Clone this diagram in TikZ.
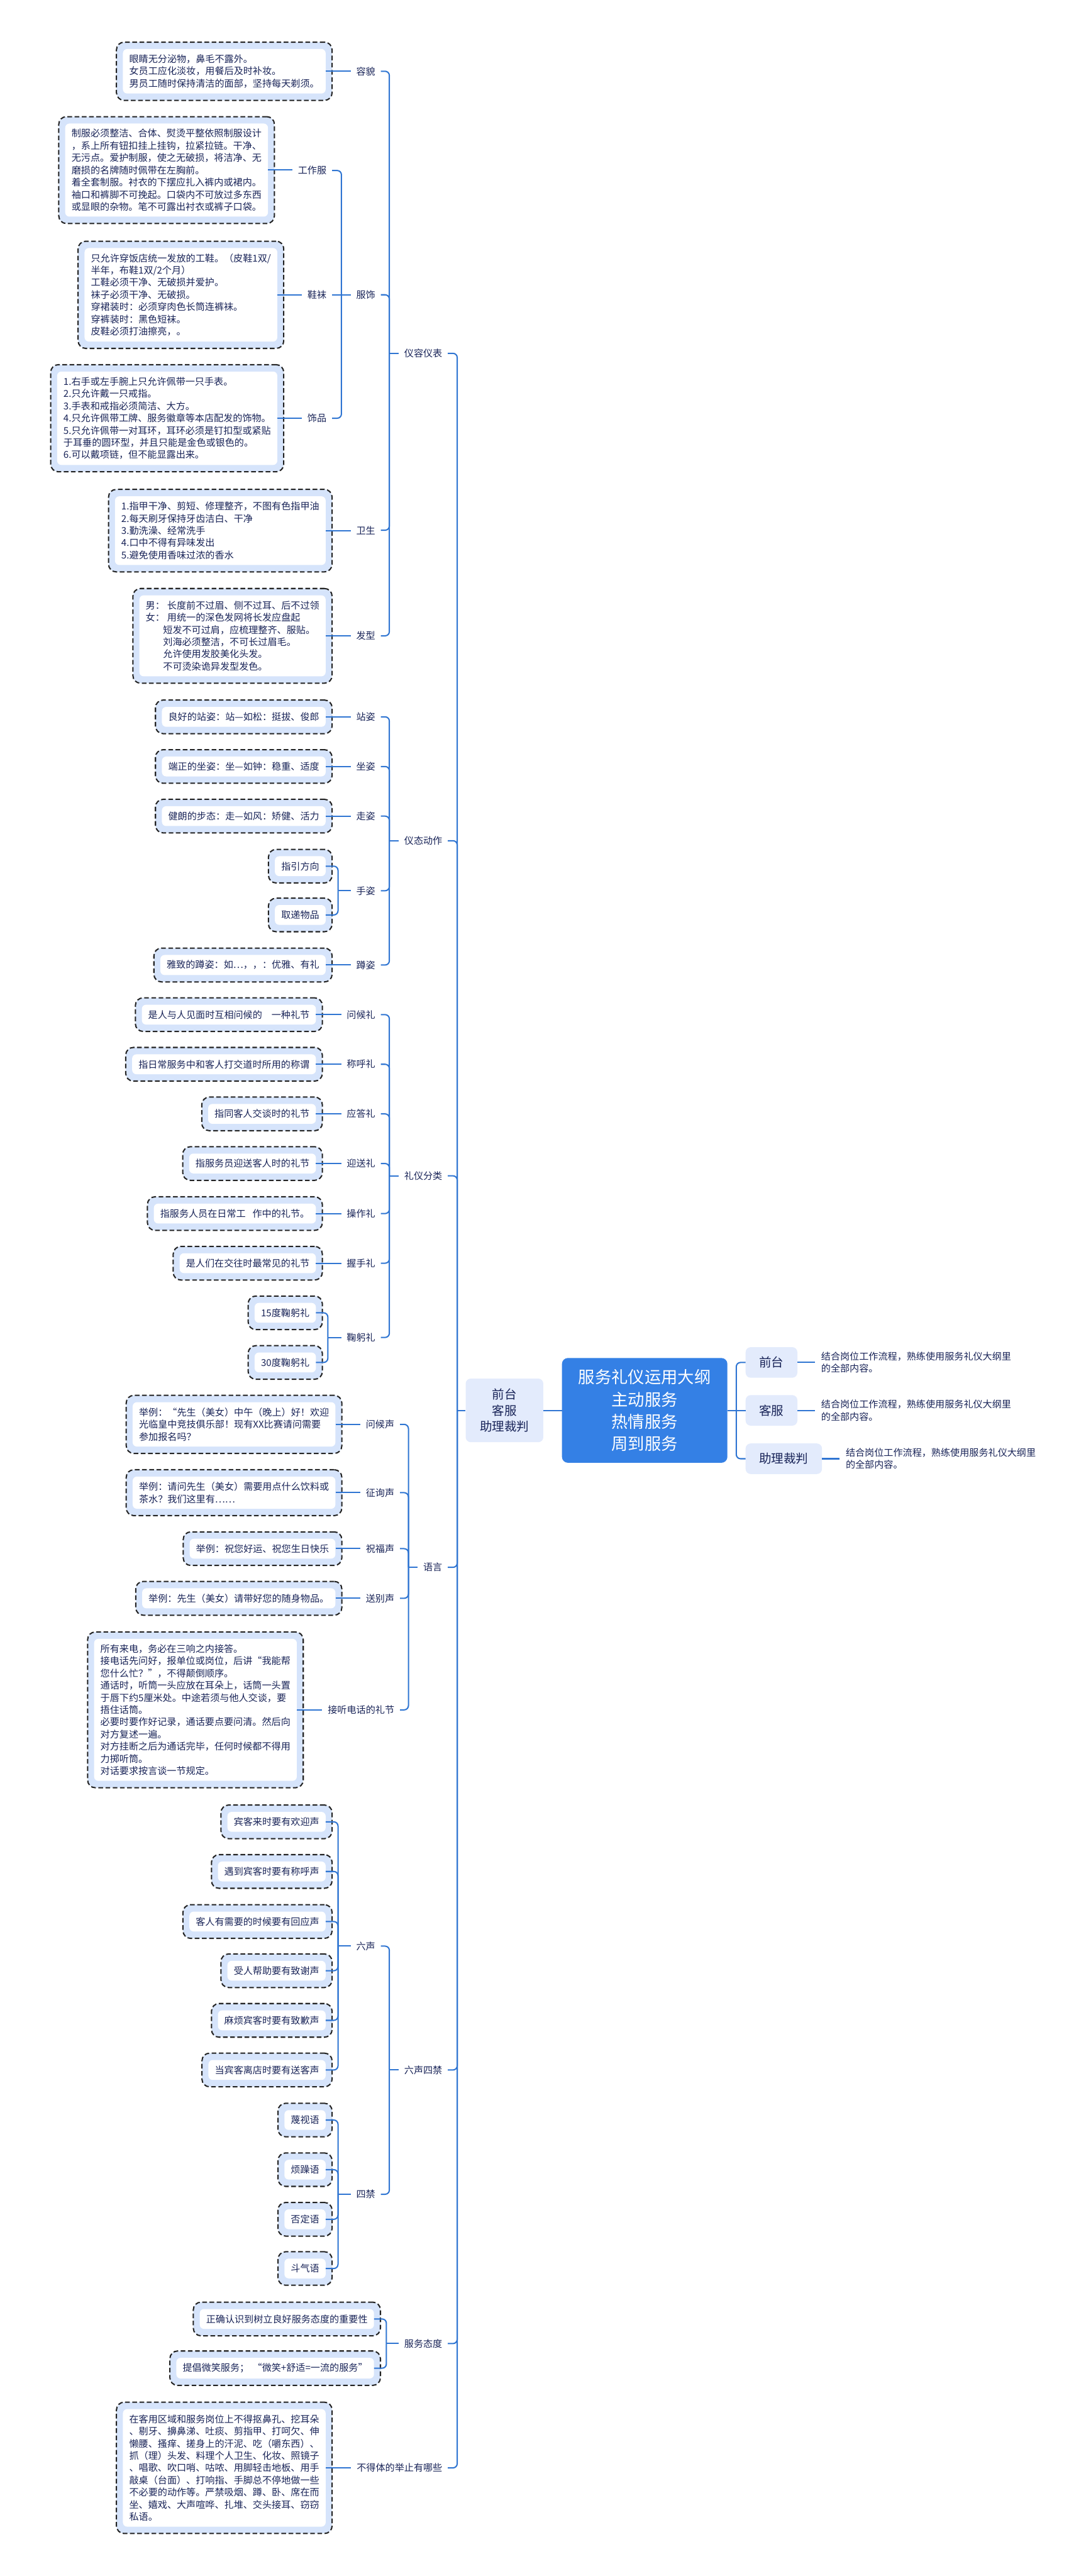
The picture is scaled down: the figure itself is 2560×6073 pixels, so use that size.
\documentclass[tikz,border=0pt]{standalone}
\usepackage{fontspec}
\setmainfont{Noto Sans CJK SC}
\usetikzlibrary{backgrounds,fit}
\definecolor{navy}{RGB}{25,36,88}
\definecolor{lineblue}{RGB}{47,117,210}
\definecolor{boxblue}{RGB}{214,228,251}
\definecolor{dashgray}{RGB}{35,35,35}
\definecolor{rootblue}{RGB}{52,128,229}
\definecolor{paleblue}{RGB}{227,235,252}
\tikzset{
 smallfont/.style={font=\fontsize{22.4pt}{28.8pt}\selectfont},
 leafst/.style={smallfont, text=navy, fill=white, rounded corners=10pt, inner xsep=15pt, inner ysep=13pt, align=left},
 dbox/.style={draw=dashgray, line width=3pt, dash pattern=on 11pt off 6pt, fill=boxblue, rounded corners=18pt, inner xsep=15pt, inner ysep=16pt},
 lblst/.style={smallfont, text=navy, inner xsep=13pt, inner ysep=4pt},
 conn/.style={draw=lineblue, line width=3pt, rounded corners=10pt},
 rootst/.style={fill=rootblue, text=white, rounded corners=14pt, font=\fontsize{39pt}{52pt}\selectfont, align=center, minimum width=390pt, minimum height=247pt, inner sep=0pt},
 l1st/.style={fill=paleblue, text=navy, rounded corners=12pt, font=\fontsize{29pt}{38pt}\selectfont, align=center, inner sep=0pt},
 notest/.style={smallfont, text=navy, align=left, inner xsep=14pt, inner ysep=0pt},
}
\newcommand\mkleaf[4]{\node[leafst,anchor=east] (#1) at (#2,#3) {#4};\begin{pgfonlayer}{background}\node[dbox,fit=(#1)] (#1o) {};\end{pgfonlayer}}
\newcommand\mklbl[4]{\node[lblst,anchor=east] (#1) at (#2+13,#3) {#4};}
\begin{document}
\begin{tikzpicture}[x=1pt,y=-1pt]
\useasboundingbox (0,0) rectangle (2560,6073);
\begin{pgfonlayer}{background}\fill[white] (0,0) rectangle (2560,6073);\end{pgfonlayer}

% center part
\node[rootst] (root) at (1520,3325) {服务礼仪运用大纲\\主动服务\\热情服务\\周到服务};
\node[l1st, minimum width=183pt, minimum height=150pt] (lb) at (1189.5,3325) {前台\\客服\\助理裁判};
\node[l1st, minimum width=122pt, minimum height=72pt] (qt) at (1819,3212) {前台};
\node[l1st, minimum width=122pt, minimum height=72pt] (kf) at (1819,3325) {客服};
\node[l1st, minimum width=180pt, minimum height=72pt] (zl) at (1848,3439) {助理裁判};
\node[notest, anchor=west] (qtn) at (1922,3212) {结合岗位工作流程，熟练使用服务礼仪大纲里\\的全部内容。};
\node[notest, anchor=west] (kfn) at (1922,3325) {结合岗位工作流程，熟练使用服务礼仪大纲里\\的全部内容。};
\node[notest, anchor=west] (zln) at (1980,3439) {结合岗位工作流程，熟练使用服务礼仪大纲里\\的全部内容。};

% level 2 labels
\mklbl{yrbb}{1043}{833}{仪容仪表}
\mklbl{ytdz}{1043}{1982}{仪态动作}
\mklbl{lyfl}{1043}{2772}{礼仪分类}
\mklbl{yuyan}{1043}{3695}{语言}
\mklbl{lsjs}{1043}{4880}{六声四禁}
\mklbl{fwtd}{1043}{5525}{服务态度}
\mklbl{bdt}{1043}{5818}{不得体的举止有哪些}

% level 3 labels
\mklbl{rm}{885}{168}{容貌}
\mklbl{fs}{885}{695}{服饰}
\mklbl{ws}{885}{1250}{卫生}
\mklbl{fx}{885}{1499}{发型}
\mklbl{zz}{885}{1690}{站姿}
\mklbl{zuoz}{885}{1807}{坐姿}
\mklbl{zouz}{885}{1924}{走姿}
\mklbl{sz}{885}{2100}{手姿}
\mklbl{dz}{885}{2275}{蹲姿}
\mklbl{whl}{885}{2392}{问候礼}
\mklbl{chl}{885}{2509}{称呼礼}
\mklbl{ydl}{885}{2626}{应答礼}
\mklbl{ysl}{885}{2743}{迎送礼}
\mklbl{czl}{885}{2861}{操作礼}
\mklbl{wsl}{885}{2978}{握手礼}
\mklbl{jgl}{885}{3153}{鞠躬礼}
\mklbl{whs}{930}{3358}{问候声}
\mklbl{zxs}{930}{3519}{征询声}
\mklbl{zfs}{930}{3651}{祝福声}
\mklbl{sbs}{930}{3768}{送别声}
\mklbl{jtdh}{930}{4031}{接听电话的礼节}
\mklbl{ls}{885}{4588}{六声}
\mklbl{sj}{885}{5173}{四禁}
% level 4 labels
\mklbl{gzf}{770}{402}{工作服}
\mklbl{xw}{770}{695}{鞋袜}
\mklbl{sp}{770}{986}{饰品}

% leaves
\mkleaf{rmT}{768}{168}{眼睛无分泌物，鼻毛不露外。\\女员工应化淡妆，用餐后及时补妆。\\男员工随时保持清洁的面部，坚持每天剃须。}
\mkleaf{gzfT}{632}{401}{制服必须整洁、合体、熨烫平整依照制服设计\\，系上所有钮扣挂上挂钩，拉紧拉链。干净、\\无污点。爱护制服，使之无破损，将洁净、无\\磨损的名牌随时佩带在左胸前。\\着全套制服。衬衣的下摆应扎入裤内或裙内。\\袖口和裤脚不可挽起。口袋内不可放过多东西\\或显眼的杂物。笔不可露出衬衣或裤子口袋。}
\mkleaf{xwT}{654}{695}{只允许穿饭店统一发放的工鞋。（皮鞋1双/\\半年，布鞋1双/2个月）\\工鞋必须干净、无破损并爱护。\\袜子必须干净、无破损。\\穿裙装时：必须穿肉色长筒连裤袜。\\穿裤装时：黑色短袜。\\皮鞋必须打油擦亮，。}
\mkleaf{spT}{654}{986}{1.右手或左手腕上只允许佩带一只手表。\\2.只允许戴一只戒指。\\3.手表和戒指必须简洁、大方。\\4.只允许佩带工牌、服务徽章等本店配发的饰物。\\5.只允许佩带一对耳环，耳环必须是钉扣型或紧贴\\于耳垂的圆环型，并且只能是金色或银色的。\\6.可以戴项链，但不能显露出来。}
\mkleaf{wsT}{768}{1251}{1.指甲干净、剪短、修理整齐，不图有色指甲油\\2.每天刷牙保持牙齿洁白、干净\\3.勤洗澡、经常洗手\\4.口中不得有异味发出\\5.避免使用香味过浓的香水}
\mkleaf{fxT}{768}{1499}{男：\hspace{6pt}长度前不过眉、侧不过耳、后不过领\\女：\hspace{6pt}用统一的深色发网将长发应盘起\\\hspace*{41pt}短发不可过肩，应梳理整齐、服贴。\\\hspace*{41pt}刘海必须整洁，不可长过眉毛。\\\hspace*{41pt}允许使用发胶美化头发。\\\hspace*{41pt}不可烫染诡异发型发色。}
\mkleaf{zzT}{768}{1690}{良好的站姿：站—如松：挺拔、俊郎}
\mkleaf{zuozT}{768}{1807}{端正的坐姿：坐—如钟：稳重、适度}
\mkleaf{zouzT}{768}{1924}{健朗的步态：走—如风：矫健、活力}
\mkleaf{zyfx}{768}{2042}{指引方向}
\mkleaf{qdwp}{768}{2157}{取递物品}
\mkleaf{dzT}{768}{2275}{雅致的蹲姿：如…，，：优雅、有礼}
\mkleaf{whlT}{745}{2392}{是人与人见面时互相问候的\hspace{22pt}一种礼节}
\mkleaf{chlT}{745}{2509}{指日常服务中和客人打交道时所用的称谓}
\mkleaf{ydlT}{745}{2626}{指同客人交谈时的礼节}
\mkleaf{yslT}{745}{2743}{指服务员迎送客人时的礼节}
\mkleaf{czlT}{745}{2861}{指服务人员在日常工\hspace{16pt}作中的礼节。}
\mkleaf{wslT}{745}{2978}{是人们在交往时最常见的礼节}
\mkleaf{j15}{745}{3095}{15度鞠躬礼}
\mkleaf{j30}{745}{3212}{30度鞠躬礼}
\mkleaf{whsT}{791}{3358}{举例：“先生（美女）中午（晚上）好！欢迎\\光临皇中竞技俱乐部！现有XX比赛请问需要\\参加报名吗？}
\mkleaf{zxsT}{791}{3519}{举例：请问先生（美女）需要用点什么饮料或\\茶水？我们这里有……}
\mkleaf{zfsT}{791}{3651}{举例：祝您好运、祝您生日快乐}
\mkleaf{sbsT}{791}{3768}{举例：先生（美女）请带好您的随身物品。}
\mkleaf{jtdhT}{700}{4031}{所有来电，务必在三响之内接答。\\接电话先问好，报单位或岗位，后讲“我能帮\\您什么忙？”，不得颠倒顺序。\\通话时，听筒一头应放在耳朵上，话筒一头置\\于唇下约5厘米处。中途若须与他人交谈，要\\捂住话筒。\\必要时要作好记录，通话要点要问清。然后向\\对方复述一遍。\\对方挂断之后为通话完毕，任何时候都不得用\\力掷听筒。\\对话要求按言谈一节规定。}
\mkleaf{s1}{768}{4295}{宾客来时要有欢迎声}
\mkleaf{s2}{768}{4412}{遇到宾客时要有称呼声}
\mkleaf{s3}{768}{4530}{客人有需要的时候要有回应声}
\mkleaf{s4}{768}{4646}{受人帮助要有致谢声}
\mkleaf{s5}{768}{4763}{麻烦宾客时要有致歉声}
\mkleaf{s6}{768}{4880}{当宾客离店时要有送客声}
\mkleaf{j1}{768}{4998}{蔑视语}
\mkleaf{j2}{768}{5115}{烦躁语}
\mkleaf{j3}{768}{5232}{否定语}
\mkleaf{j4}{768}{5348}{斗气语}
\mkleaf{t1}{882}{5467}{正确认识到树立良好服务态度的重要性}
\mkleaf{t2}{882}{5583}{提倡微笑服务；\hspace{8pt}“微笑+舒适=一流的服务”}
\mkleaf{bdtT}{768}{5818}{在客用区域和服务岗位上不得抠鼻孔、挖耳朵\\、剔牙、擤鼻涕、吐痰、剪指甲、打呵欠、伸\\懒腰、搔痒、搓身上的汗泥、吃（嚼东西）、\\抓（理）头发、料理个人卫生、化妆、照镜子\\、唱歌、吹口哨、咕哝、用脚轻击地板、用手\\敲桌（台面）、打响指、手脚总不停地做一些\\不必要的动作等。严禁吸烟、蹲、卧、席在而\\坐、嬉戏、大声喧哗、扎堆、交头接耳、窃窃\\私语。}

% leaf to label connectors
\foreach \a/\b in {rmT/rm,gzfT/gzf,xwT/xw,spT/sp,wsT/ws,fxT/fx,zzT/zz,zuozT/zuoz,zouzT/zouz,dzT/dz,whlT/whl,chlT/chl,ydlT/ydl,yslT/ysl,czlT/czl,wslT/wsl,whsT/whs,zxsT/zxs,zfsT/zfs,sbsT/sbs,jtdhT/jtdh,bdtT/bdt}
  \draw[conn] (\a.east) -- (\a.east -| \b.west);

% brackets
\coordinate (bfs) at (805,695);
\draw[conn] (gzf.east) -| (bfs);
\draw[conn] (xw.east) -- (bfs);
\draw[conn] (sp.east) -| (bfs);
\draw[conn] (bfs) -- (fs.west);

\coordinate (byr) at (918,833);
\foreach \c in {rm,fs,ws,fx} \draw[conn] (\c.east) -| (byr);
\draw[conn] (byr) -- (yrbb.west);

\coordinate (bsz) at (797,2100);
\foreach \c in {zyfx,qdwp} \draw[conn] (\c.east) -| (bsz);
\draw[conn] (bsz) -- (sz.west);

\coordinate (byt) at (918,1982);
\foreach \c in {zz,zuoz,zouz,sz,dz} \draw[conn] (\c.east) -| (byt);
\draw[conn] (byt) -- (ytdz.west);

\coordinate (bjg) at (773,3153);
\foreach \c in {j15,j30} \draw[conn] (\c.east) -| (bjg);
\draw[conn] (bjg) -- (jgl.west);

\coordinate (bly) at (918,2772);
\foreach \c in {whl,chl,ydl,ysl,czl,wsl,jgl} \draw[conn] (\c.east) -| (bly);
\draw[conn] (bly) -- (lyfl.west);

\coordinate (byy) at (963,3695);
\foreach \c in {whs,zxs,zfs,sbs,jtdh} \draw[conn] (\c.east) -| (byy);
\draw[conn] (byy) -- (yuyan.west);

\coordinate (bls) at (797,4588);
\foreach \c in {s1,s2,s3,s4,s5,s6} \draw[conn] (\c.east) -| (bls);
\draw[conn] (bls) -- (ls.west);

\coordinate (bsj) at (797,5173);
\foreach \c in {j1,j2,j3,j4} \draw[conn] (\c.east) -| (bsj);
\draw[conn] (bsj) -- (sj.west);

\coordinate (bl4) at (918,4880);
\foreach \c in {ls,sj} \draw[conn] (\c.east) -| (bl4);
\draw[conn] (bl4) -- (lsjs.west);

\coordinate (btd) at (911,5525);
\foreach \c in {t1,t2} \draw[conn] (\c.east) -| (btd);
\draw[conn] (btd) -- (fwtd.west);

\coordinate (bmain) at (1078,3325);
\foreach \c in {yrbb,ytdz,lyfl,yuyan,lsjs,fwtd,bdt} \draw[conn] (\c.east) -| (bmain);
\draw[conn] (bmain) -- (lb.west);
\draw[conn] (lb.east) -- (root.west);

\coordinate (brt) at (1736,3325);
\draw[conn] (root.east) -- (brt);
\draw[conn] (brt) |- (qt.west);
\draw[conn] (brt) -- (kf.west);
\draw[conn] (brt) |- (zl.west);
\draw[conn] (qt.east) -- (qtn.west);
\draw[conn] (kf.east) -- (kfn.west);
\draw[conn] (zl.east) -- (zln.west);
\end{tikzpicture}
\end{document}
